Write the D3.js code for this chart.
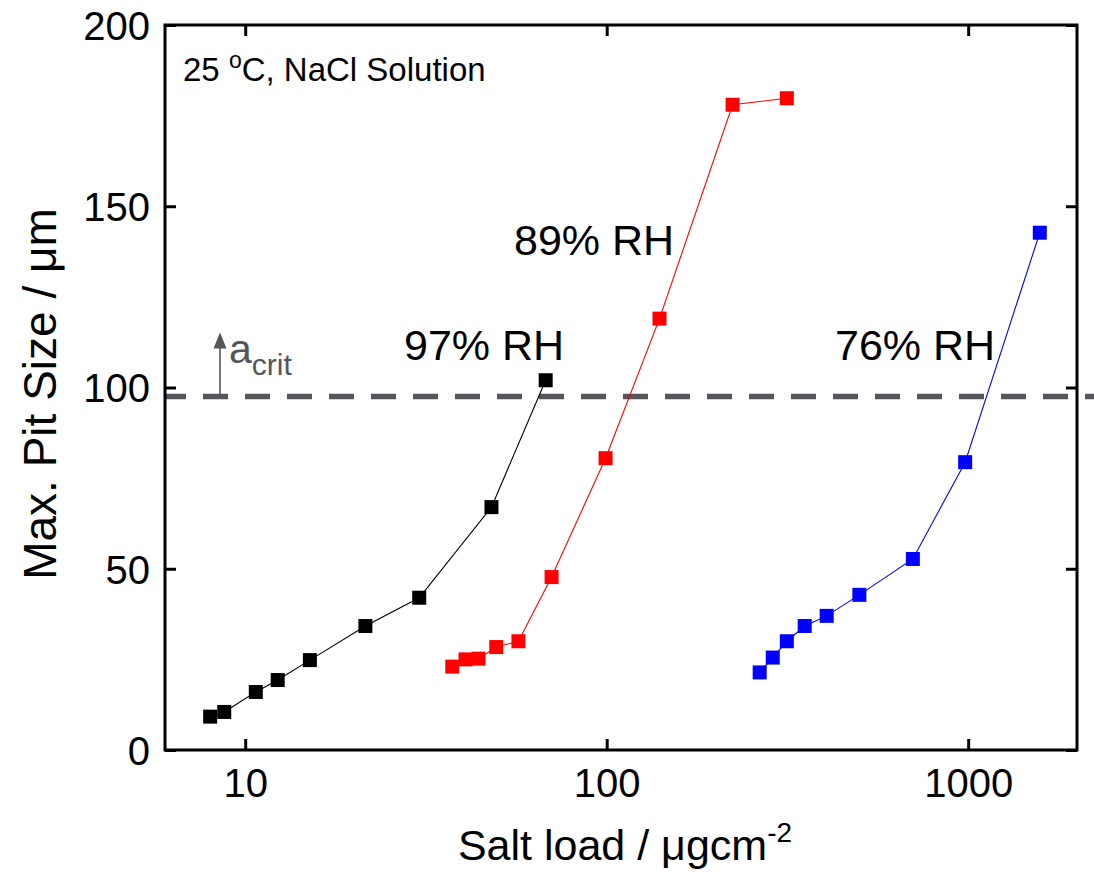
<!DOCTYPE html>
<html>
<head>
<meta charset="utf-8">
<script src="https://cdn.jsdelivr.net/npm/d3@7"></script>
<style>
  body { margin: 0; background: #fff; }
  text { font-family: "Liberation Sans", Arial, sans-serif; }
</style>
</head>
<body>
<div id="chart"></div>
<script>
// values
var rh97Load = [8.0, 8.75, 10.7, 12.3, 15.1, 21.5, 30.3, 48, 67.8];
var rh97Pit = [9.2, 10.5, 16, 19.3, 24.8, 34.2, 42, 67, 102];
var rh89Load = [37.4, 40.7, 44.2, 49.5, 57, 70.4, 99.3, 140, 223, 315];
var rh89Pit = [23, 25, 25.2, 28.4, 30, 47.7, 80.5, 119, 178, 179.8];
var rh76Load = [265, 288, 315, 353, 406, 500, 703, 981, 1578];
var rh76Pit = [21.4, 25.5, 30, 34.2, 37, 42.8, 52.7, 79.4, 142.7];
var xTicks = [10, 100, 1000];
var yTicks = [0, 50, 100, 150, 200];
var critSize = 97.5;

var width = 1094, height = 872;
var margin = { top: 25, right: 17, bottom: 122, left: 165 };

var svg = d3.select('#chart').append('svg')
  .attr('width', width)
  .attr('height', height);

var x = d3.scaleLog().domain([6, 2000]).range([margin.left, width - margin.right]);
var y = d3.scaleLinear().domain([0, 200]).range([height - margin.bottom, margin.top]);

var series = [
  { load: rh97Load, pit: rh97Pit, color: '#000000' },
  { load: rh89Load, pit: rh89Pit, color: '#ff0000' },
  { load: rh76Load, pit: rh76Pit, color: '#0000ff' }
];

// critical pit size line
var yc = y(critSize);
svg.append('line')
  .attr('x1', margin.left).attr('x2', width)
  .attr('y1', yc).attr('y2', yc)
  .attr('stroke', '#53565b')
  .attr('stroke-width', 5.5)
  .attr('stroke-dasharray', '25,17')
  .attr('stroke-dashoffset', 4);

// arrow for a_crit
svg.append('line')
  .attr('x1', 220).attr('x2', 220)
  .attr('y1', yc).attr('y2', yc - 52)
  .attr('stroke', '#53565b').attr('stroke-width', 1.6);
svg.append('path')
  .attr('d', 'M213.5,' + (yc - 48) + ' L220,' + (yc - 64) + ' L226.5,' + (yc - 48) + ' Z')
  .attr('fill', '#53565b');

var acrit = svg.append('text')
  .attr('x', 229).attr('y', 363)
  .attr('fill', '#53565b')
  .attr('font-size', 41);
acrit.append('tspan').text('a');
acrit.append('tspan').attr('font-size', 30).attr('dy', 12).text('crit');

// series
var line = d3.line();
series.forEach(function (s) {
  var pts = s.load.map(function (d, i) { return [x(d), y(s.pit[i])]; });
  svg.append('path')
    .attr('d', line(pts))
    .attr('fill', 'none')
    .attr('stroke', s.color)
    .attr('stroke-width', 1.1);
  svg.selectAll(null)
    .data(pts)
    .enter().append('rect')
    .attr('x', function (d) { return d[0] - 7; })
    .attr('y', function (d) { return d[1] - 7; })
    .attr('width', 14).attr('height', 14)
    .attr('fill', s.color);
});

// axes with inward ticks, mirrored
var x0 = margin.left, x1 = width - margin.right;
var y0 = height - margin.bottom, y1 = margin.top;

var axBottom = svg.append('g').attr('transform', 'translate(0,' + y0 + ')')
  .call(d3.axisBottom(x).tickValues(xTicks).tickSizeInner(-11).tickSizeOuter(0).tickPadding(19).tickFormat(d3.format('d')));
var axTop = svg.append('g').attr('transform', 'translate(0,' + y1 + ')')
  .call(d3.axisTop(x).tickValues(xTicks).tickSizeInner(-11).tickSizeOuter(0).tickFormat(''));
var axLeft = svg.append('g').attr('transform', 'translate(' + x0 + ',0)')
  .call(d3.axisLeft(y).tickValues(yTicks).tickSizeInner(-11).tickSizeOuter(0).tickPadding(15));
var axRight = svg.append('g').attr('transform', 'translate(' + x1 + ',0)')
  .call(d3.axisRight(y).tickValues(yTicks).tickSizeInner(-11).tickSizeOuter(0).tickFormat(''));

[axBottom, axTop, axLeft, axRight].forEach(function (g) {
  g.select('.domain').remove();
  g.selectAll('line').attr('stroke', '#000').attr('stroke-width', 3);
  g.selectAll('text').attr('fill', '#000').attr('font-size', 40)
    .attr('font-family', '"Liberation Sans", Arial, sans-serif');
});
axLeft.selectAll('text').attr('dy', '0.36em');

svg.append('rect')
  .attr('x', x0).attr('y', y1)
  .attr('width', x1 - x0).attr('height', y0 - y1)
  .attr('fill', 'none').attr('stroke', '#000').attr('stroke-width', 3);

// titles
var xt = svg.append('text')
  .attr('x', 625).attr('y', 860)
  .attr('text-anchor', 'middle')
  .attr('font-size', 43);
xt.append('tspan').text('Salt load / \u03bcgcm');
xt.append('tspan').attr('font-size', 28).attr('dy', -18).text('-2');

svg.append('text')
  .attr('transform', 'translate(56,394) rotate(-90)')
  .attr('text-anchor', 'middle')
  .attr('font-size', 46)
  .text('Max. Pit Size / \u03bcm');

// annotations
var cond = svg.append('text').attr('x', 183).attr('y', 81).attr('font-size', 33);
cond.append('tspan').text('25 ');
cond.append('tspan').attr('font-size', 23).attr('dy', -13).text('o');
cond.append('tspan').attr('dy', 13).text('C, NaCl Solution');

svg.append('text').attr('x', 404).attr('y', 360).attr('font-size', 43).text('97% RH');
svg.append('text').attr('x', 514).attr('y', 255).attr('font-size', 43).text('89% RH');
svg.append('text').attr('x', 835).attr('y', 360).attr('font-size', 43).text('76% RH');
</script>
</body>
</html>
